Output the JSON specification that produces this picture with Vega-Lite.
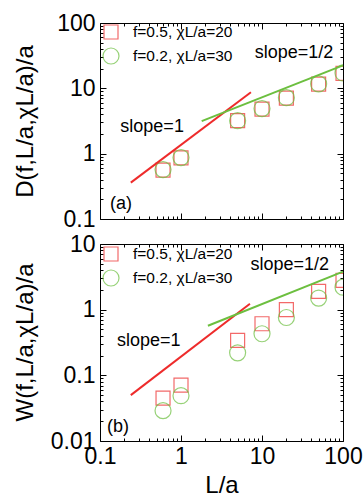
{
  "$schema": "https://vega.github.io/schema/vega-lite/v6.json",
  "padding": {"left": 12, "top": 11, "right": 5, "bottom": 0},
  "spacing": 0,
  "background": "white",
  "datasets": {
    "ptsA": [
      {"L": 0.6, "v": 0.56, "s": "f=0.5, χL/a=20"},
      {"L": 1, "v": 0.86, "s": "f=0.5, χL/a=20"},
      {"L": 5, "v": 3.2, "s": "f=0.5, χL/a=20"},
      {"L": 10, "v": 4.8, "s": "f=0.5, χL/a=20"},
      {"L": 20, "v": 7.1, "s": "f=0.5, χL/a=20"},
      {"L": 50, "v": 11.6, "s": "f=0.5, χL/a=20"},
      {"L": 100, "v": 17, "s": "f=0.5, χL/a=20"},
      {"L": 0.6, "v": 0.57, "s": "f=0.2, χL/a=30"},
      {"L": 1, "v": 0.87, "s": "f=0.2, χL/a=30"},
      {"L": 5, "v": 3.2, "s": "f=0.2, χL/a=30"},
      {"L": 10, "v": 4.9, "s": "f=0.2, χL/a=30"},
      {"L": 20, "v": 7.2, "s": "f=0.2, χL/a=30"},
      {"L": 50, "v": 11.7, "s": "f=0.2, χL/a=30"},
      {"L": 100, "v": 17.2, "s": "f=0.2, χL/a=30"}
    ],
    "ptsB": [
      {"L": 0.6, "v": 0.045, "s": "f=0.5, χL/a=20"},
      {"L": 1, "v": 0.071, "s": "f=0.5, χL/a=20"},
      {"L": 5, "v": 0.34, "s": "f=0.5, χL/a=20"},
      {"L": 10, "v": 0.61, "s": "f=0.5, χL/a=20"},
      {"L": 20, "v": 1.0, "s": "f=0.5, χL/a=20"},
      {"L": 50, "v": 1.9, "s": "f=0.5, χL/a=20"},
      {"L": 100, "v": 2.8, "s": "f=0.5, χL/a=20"},
      {"L": 0.6, "v": 0.029, "s": "f=0.2, χL/a=30"},
      {"L": 1, "v": 0.049, "s": "f=0.2, χL/a=30"},
      {"L": 5, "v": 0.22, "s": "f=0.2, χL/a=30"},
      {"L": 10, "v": 0.43, "s": "f=0.2, χL/a=30"},
      {"L": 20, "v": 0.76, "s": "f=0.2, χL/a=30"},
      {"L": 50, "v": 1.5, "s": "f=0.2, χL/a=30"},
      {"L": 100, "v": 2.2, "s": "f=0.2, χL/a=30"}
    ],
    "redA": [{"L": 0.24, "v": 0.36}, {"L": 7.3, "v": 8.7}],
    "greenA": [{"L": 1.8, "v": 3.15}, {"L": 100, "v": 22.5}],
    "redB": [{"L": 0.24, "v": 0.05}, {"L": 7.1, "v": 1.23}],
    "greenB": [{"L": 2.15, "v": 0.57}, {"L": 100, "v": 3.8}],
    "txtA": [
      {"L": 24.8, "v": 35, "t": "slope=1/2"},
      {"L": 0.44, "v": 2.57, "t": "slope=1"},
      {"L": 0.182, "v": 0.17, "t": "(a)"}
    ],
    "txtB": [
      {"L": 22, "v": 4.8, "t": "slope=1/2"},
      {"L": 0.40, "v": 0.334, "t": "slope=1"},
      {"L": 0.167, "v": 0.0164, "t": "(b)"}
    ]
  },
  "vconcat": [
    {
      "width": 243,
      "height": 196,
      "layer": [
        {
          "data": {"name": "ptsA"},
          "mark": {"type": "point", "filled": false, "strokeWidth": 1.2, "clip": true},
          "encoding": {
            "x": {"field": "L", "type": "quantitative", "scale": {"type": "log", "domain": [0.1, 100]},
                  "axis": {"orient": "bottom", "values": [0.1, 1, 10, 100], "offset": -6, "tickSize": 6, "labels": false, "title": null}},
            "y": {"field": "v", "type": "quantitative", "scale": {"type": "log", "domain": [0.1, 100]},
                  "axis": {"orient": "left", "values": [0.1, 1, 10, 100], "format": "~g", "offset": -6, "tickSize": 6, "labelPadding": 5,
                           "title": "D(f,L/a,χL/a)/a", "titleX": -81, "titleY": 98, "titleAngle": -90, "titleAlign": "center", "titleBaseline": "middle"}},
            "color": {"field": "s", "type": "nominal", "scale": {"domain": ["f=0.5, χL/a=20", "f=0.2, χL/a=30"], "range": ["#ee2b2b", "#6cbf3f"]},
                      "legend": {"orient": "none", "legendX": 2, "legendY": 1, "title": null}},
            "shape": {"field": "s", "type": "nominal", "scale": {"domain": ["f=0.5, χL/a=20", "f=0.2, χL/a=30"], "range": ["square", "circle"]},
                      "legend": {"orient": "none", "legendX": 2, "legendY": 1, "title": null}},
            "size": {"field": "s", "type": "nominal", "scale": {"domain": ["f=0.5, χL/a=20", "f=0.2, χL/a=30"], "range": [196, 256]}, "legend": null}
          }
        },
        {
          "data": {"name": "redA"},
          "mark": {"type": "line", "color": "#ee2b2b", "strokeWidth": 2},
          "encoding": {
            "x": {"field": "L", "type": "quantitative", "scale": {"type": "log", "domain": [0.1, 100]},
                  "axis": {"orient": "bottom", "values": [0.2,0.3,0.4,0.5,0.6,0.7,0.8,0.9,2,3,4,5,6,7,8,9,20,30,40,50,60,70,80,90], "offset": -3, "tickSize": 3, "labels": false, "title": null}},
            "y": {"field": "v", "type": "quantitative", "scale": {"type": "log", "domain": [0.1, 100]},
                  "axis": {"orient": "left", "values": [0.2,0.3,0.4,0.5,0.6,0.7,0.8,0.9,2,3,4,5,6,7,8,9,20,30,40,50,60,70,80,90], "offset": -3, "tickSize": 3, "labels": false, "title": null}}
          }
        },
        {
          "data": {"name": "greenA"},
          "mark": {"type": "line", "color": "#6cbf3f", "strokeWidth": 2},
          "encoding": {
            "x": {"field": "L", "type": "quantitative", "scale": {"type": "log", "domain": [0.1, 100]},
                  "axis": {"orient": "top", "values": [0.1, 1, 10, 100], "offset": -6, "tickSize": 6, "labels": false, "title": null}},
            "y": {"field": "v", "type": "quantitative", "scale": {"type": "log", "domain": [0.1, 100]},
                  "axis": {"orient": "right", "values": [0.1, 1, 10, 100], "offset": -6, "tickSize": 6, "labels": false, "title": null}}
          }
        },
        {
          "data": {"name": "txtA"},
          "mark": {"type": "text", "fontSize": 18, "font": "Liberation Sans", "align": "center", "baseline": "middle", "color": "black"},
          "encoding": {
            "x": {"field": "L", "type": "quantitative", "scale": {"type": "log", "domain": [0.1, 100]},
                  "axis": {"orient": "top", "values": [0.2,0.3,0.4,0.5,0.6,0.7,0.8,0.9,2,3,4,5,6,7,8,9,20,30,40,50,60,70,80,90], "offset": -3, "tickSize": 3, "labels": false, "title": null}},
            "y": {"field": "v", "type": "quantitative", "scale": {"type": "log", "domain": [0.1, 100]},
                  "axis": {"orient": "right", "values": [0.2,0.3,0.4,0.5,0.6,0.7,0.8,0.9,2,3,4,5,6,7,8,9,20,30,40,50,60,70,80,90], "offset": -3, "tickSize": 3, "labels": false, "title": null}},
            "text": {"field": "t"}
          }
        }
      ],
      "resolve": {"axis": {"x": "independent", "y": "independent"}}
    },
    {
      "width": 243,
      "height": 197,
      "layer": [
        {
          "data": {"name": "ptsB"},
          "mark": {"type": "point", "filled": false, "strokeWidth": 1.2, "clip": true},
          "encoding": {
            "x": {"field": "L", "type": "quantitative", "scale": {"type": "log", "domain": [0.1, 100]},
                  "axis": {"orient": "bottom", "values": [0.1, 1, 10, 100], "format": "~g", "offset": -6, "tickSize": 6, "labelPadding": 4, "title": "L/a", "titlePadding": 5}},
            "y": {"field": "v", "type": "quantitative", "scale": {"type": "log", "domain": [0.01, 10]},
                  "axis": {"orient": "left", "values": [0.01, 0.1, 1, 10], "format": "~g", "offset": -6, "tickSize": 6, "labelPadding": 5,
                           "title": "W(f,L/a,χL/a)/a", "titleX": -81, "titleY": 98, "titleAngle": -90, "titleAlign": "center", "titleBaseline": "middle"}},
            "color": {"field": "s", "type": "nominal", "scale": {"domain": ["f=0.5, χL/a=20", "f=0.2, χL/a=30"], "range": ["#ee2b2b", "#6cbf3f"]},
                      "legend": {"orient": "none", "legendX": 2, "legendY": 2, "title": null}},
            "shape": {"field": "s", "type": "nominal", "scale": {"domain": ["f=0.5, χL/a=20", "f=0.2, χL/a=30"], "range": ["square", "circle"]},
                      "legend": {"orient": "none", "legendX": 2, "legendY": 2, "title": null}},
            "size": {"field": "s", "type": "nominal", "scale": {"domain": ["f=0.5, χL/a=20", "f=0.2, χL/a=30"], "range": [196, 256]}, "legend": null}
          }
        },
        {
          "data": {"name": "redB"},
          "mark": {"type": "line", "color": "#ee2b2b", "strokeWidth": 2},
          "encoding": {
            "x": {"field": "L", "type": "quantitative", "scale": {"type": "log", "domain": [0.1, 100]},
                  "axis": {"orient": "bottom", "values": [0.2,0.3,0.4,0.5,0.6,0.7,0.8,0.9,2,3,4,5,6,7,8,9,20,30,40,50,60,70,80,90], "offset": -3, "tickSize": 3, "labels": false, "title": null}},
            "y": {"field": "v", "type": "quantitative", "scale": {"type": "log", "domain": [0.01, 10]},
                  "axis": {"orient": "left", "values": [0.02,0.03,0.04,0.05,0.06,0.07,0.08,0.09,0.2,0.3,0.4,0.5,0.6,0.7,0.8,0.9,2,3,4,5,6,7,8,9], "offset": -3, "tickSize": 3, "labels": false, "title": null}}
          }
        },
        {
          "data": {"name": "greenB"},
          "mark": {"type": "line", "color": "#6cbf3f", "strokeWidth": 2},
          "encoding": {
            "x": {"field": "L", "type": "quantitative", "scale": {"type": "log", "domain": [0.1, 100]},
                  "axis": {"orient": "top", "values": [0.1, 1, 10, 100], "offset": -6, "tickSize": 6, "labels": false, "title": null}},
            "y": {"field": "v", "type": "quantitative", "scale": {"type": "log", "domain": [0.01, 10]},
                  "axis": {"orient": "right", "values": [0.01, 0.1, 1, 10], "offset": -6, "tickSize": 6, "labels": false, "title": null}}
          }
        },
        {
          "data": {"name": "txtB"},
          "mark": {"type": "text", "fontSize": 18, "font": "Liberation Sans", "align": "center", "baseline": "middle", "color": "black"},
          "encoding": {
            "x": {"field": "L", "type": "quantitative", "scale": {"type": "log", "domain": [0.1, 100]},
                  "axis": {"orient": "top", "values": [0.2,0.3,0.4,0.5,0.6,0.7,0.8,0.9,2,3,4,5,6,7,8,9,20,30,40,50,60,70,80,90], "offset": -3, "tickSize": 3, "labels": false, "title": null}},
            "y": {"field": "v", "type": "quantitative", "scale": {"type": "log", "domain": [0.01, 10]},
                  "axis": {"orient": "right", "values": [0.02,0.03,0.04,0.05,0.06,0.07,0.08,0.09,0.2,0.3,0.4,0.5,0.6,0.7,0.8,0.9,2,3,4,5,6,7,8,9], "offset": -3, "tickSize": 3, "labels": false, "title": null}},
            "text": {"field": "t"}
          }
        }
      ],
      "resolve": {"axis": {"x": "independent", "y": "independent"}}
    }
  ],
  "resolve": {"scale": {"x": "independent", "y": "independent", "color": "independent", "shape": "independent", "size": "independent"}},
  "config": {
    "font": "Liberation Sans",
    "view": {"stroke": "black", "strokeWidth": 1},
    "axis": {
      "domain": false, "grid": false, "ticks": true, "tickColor": "#000000", "tickWidth": 1, "tickOpacity": 1,
      "labelColor": "black", "labelFont": "Liberation Sans", "labelFontSize": 23,
      "titleFont": "Liberation Sans", "titleFontSize": 24, "titleFontWeight": "normal", "titleColor": "black",
      "labelFlush": false, "labelOverlap": false
    },
    "legend": {
      "labelFont": "Liberation Sans", "labelFontSize": 15.5, "labelColor": "black",
      "symbolSize": 150, "symbolStrokeWidth": 1.2, "labelOffset": 13, "rowPadding": 3
    }
  }
}
